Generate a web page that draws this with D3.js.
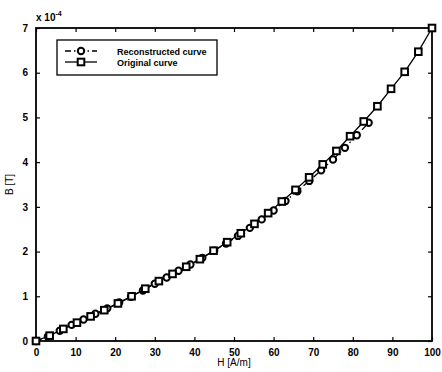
<!DOCTYPE html>
<html>
<head>
<meta charset="utf-8">
<script src="https://cdn.jsdelivr.net/npm/d3@7"></script>
<style>
  body { margin: 0; background: #fff; }
  svg { font-family: "Liberation Sans", Arial, sans-serif; }
  .tick text { font-size: 10px; font-weight: bold; fill: #000; }
</style>
</head>
<body>
<div id="chart"></div>
<script>
// H [A/m] and B [T] (x 1e-4)
var origH = [0, 3.45, 6.90, 10.34, 13.79, 17.24, 20.69, 24.14, 27.59, 31.03, 34.48, 37.93,
  41.38, 44.83, 48.28, 51.72, 55.17, 58.62, 62.07, 65.52, 68.97, 72.41, 75.86, 79.31,
  82.76, 86.21, 89.66, 93.10, 96.55, 100];
var origB = [0, 0.12, 0.27, 0.41, 0.55, 0.69, 0.84, 1.00, 1.17, 1.34, 1.50, 1.66,
  1.83, 2.02, 2.21, 2.41, 2.62, 2.86, 3.12, 3.38, 3.66, 3.95, 4.25, 4.58,
  4.91, 5.25, 5.64, 6.02, 6.47, 7.0];

var recH = [0, 3, 6, 9, 12, 15, 18, 21, 24, 27, 30, 33, 36, 39, 42, 45, 48, 51, 54,
  57, 60, 63, 66, 69, 72, 75, 78, 81, 84];
var recB = [0, 0.10, 0.23, 0.36, 0.48, 0.61, 0.73, 0.86, 0.99, 1.13, 1.28, 1.42, 1.57,
  1.71, 1.86, 2.02, 2.18, 2.35, 2.53, 2.72, 2.92, 3.13, 3.35, 3.58, 3.82, 4.06,
  4.32, 4.60, 4.88];

var xTicks = [0, 10, 20, 30, 40, 50, 60, 70, 80, 90, 100];
var yTicks = [0, 1, 2, 3, 4, 5, 6, 7];

var width = 442;
var height = 372;
var margin = { top: 28, right: 10, bottom: 31, left: 36 };
var chartWidth = width - margin.left - margin.right;
var chartHeight = height - margin.top - margin.bottom;

var svg = d3.select("#chart")
  .append("svg")
  .attr("width", width)
  .attr("height", height);

var g = svg.append("g")
  .attr("transform", `translate(${margin.left}, ${margin.top})`);

var xScale = d3.scaleLinear().domain([0, 100]).range([0, chartWidth]);
var yScale = d3.scaleLinear().domain([0, 7]).range([chartHeight, 0]);

// axes, ticks pointing inward like matlab
g.append("g")
  .attr("transform", `translate(0, ${chartHeight})`)
  .call(d3.axisBottom(xScale).tickValues(xTicks).tickFormat(d3.format("d")).tickSizeInner(-4).tickSizeOuter(0).tickPadding(8))
  .call(a => a.select(".domain").remove());
g.append("g")
  .call(d3.axisTop(xScale).tickValues(xTicks).tickSizeInner(-4).tickSizeOuter(0).tickFormat(""))
  .call(a => a.select(".domain").remove());
g.append("g")
  .call(d3.axisLeft(yScale).tickValues(yTicks).tickFormat(d3.format("d")).tickSizeInner(-4).tickSizeOuter(0).tickPadding(8))
  .call(a => a.select(".domain").remove());
g.append("g")
  .attr("transform", `translate(${chartWidth}, 0)`)
  .call(d3.axisRight(yScale).tickValues(yTicks).tickSizeInner(-4).tickSizeOuter(0).tickFormat(""))
  .call(a => a.select(".domain").remove());

g.selectAll(".tick line").attr("stroke", "#000").attr("stroke-width", 1.2);

g.append("rect")
  .attr("width", chartWidth)
  .attr("height", chartHeight)
  .attr("fill", "none")
  .attr("stroke", "#000")
  .attr("stroke-width", 1.8);

// exponent label
var expo = svg.append("text")
  .attr("x", 36)
  .attr("y", 21)
  .attr("font-size", 10)
  .attr("font-weight", "bold");
expo.append("tspan").text("x 10");
expo.append("tspan").attr("dy", -5).attr("font-size", 7).text("-4");

svg.append("text")
  .attr("x", margin.left + chartWidth / 2)
  .attr("y", 366)
  .attr("text-anchor", "middle")
  .attr("font-size", 10)
  .text("H [A/m]");

svg.append("text")
  .attr("transform", `translate(13, ${margin.top + chartHeight / 2}) rotate(-90)`)
  .attr("text-anchor", "middle")
  .attr("font-size", 10)
  .text("B [T]");

var curve = d3.line().x(d => xScale(d[0])).y(d => yScale(d[1]));
var origData = d3.zip(origH, origB);
var recData = d3.zip(recH, recB);

g.append("path")
  .datum(recData)
  .attr("d", curve)
  .attr("fill", "none")
  .attr("stroke", "#000")
  .attr("stroke-width", 1.3)
  .attr("stroke-dasharray", "6,3,1.5,3");

g.append("path")
  .datum(origData)
  .attr("d", curve)
  .attr("fill", "none")
  .attr("stroke", "#000")
  .attr("stroke-width", 1.3);

g.selectAll(".circ")
  .data(recData)
  .enter().append("circle")
  .attr("cx", d => xScale(d[0]))
  .attr("cy", d => yScale(d[1]))
  .attr("r", 3.2)
  .attr("fill", "#fff")
  .attr("stroke", "#000")
  .attr("stroke-width", 2);

g.selectAll(".sq")
  .data(origData)
  .enter().append("rect")
  .attr("x", d => xScale(d[0]) - 3.3)
  .attr("y", d => yScale(d[1]) - 3.3)
  .attr("width", 6.6)
  .attr("height", 6.6)
  .attr("fill", "#fff")
  .attr("stroke", "#000")
  .attr("stroke-width", 2);

// legend
var leg = svg.append("g").attr("transform", "translate(57, 40)");
leg.append("rect")
  .attr("width", 160)
  .attr("height", 35)
  .attr("fill", "#fff")
  .attr("stroke", "#000")
  .attr("stroke-width", 1.3);

var legItems = [
  { label: "Reconstructed curve", dash: "6,3,1.5,3", mark: "circle" },
  { label: "Original curve", dash: null, mark: "square" }
];
legItems.forEach(function(item, i) {
  var y = 11 + i * 11;
  leg.append("line")
    .attr("x1", 8).attr("x2", 40)
    .attr("y1", y).attr("y2", y)
    .attr("stroke", "#000")
    .attr("stroke-width", 1.3)
    .attr("stroke-dasharray", item.dash);
  if (item.mark == "circle") {
    leg.append("circle").attr("cx", 24).attr("cy", y).attr("r", 3.2)
      .attr("fill", "#fff").attr("stroke", "#000").attr("stroke-width", 2);
  } else {
    leg.append("rect").attr("x", 20.7).attr("y", y - 3.3).attr("width", 6.6).attr("height", 6.6)
      .attr("fill", "#fff").attr("stroke", "#000").attr("stroke-width", 2);
  }
  leg.append("text")
    .attr("x", 60)
    .attr("y", y + 3.5)
    .attr("font-size", 9)
    .attr("font-weight", "bold")
    .text(item.label);
});
</script>
</body>
</html>
